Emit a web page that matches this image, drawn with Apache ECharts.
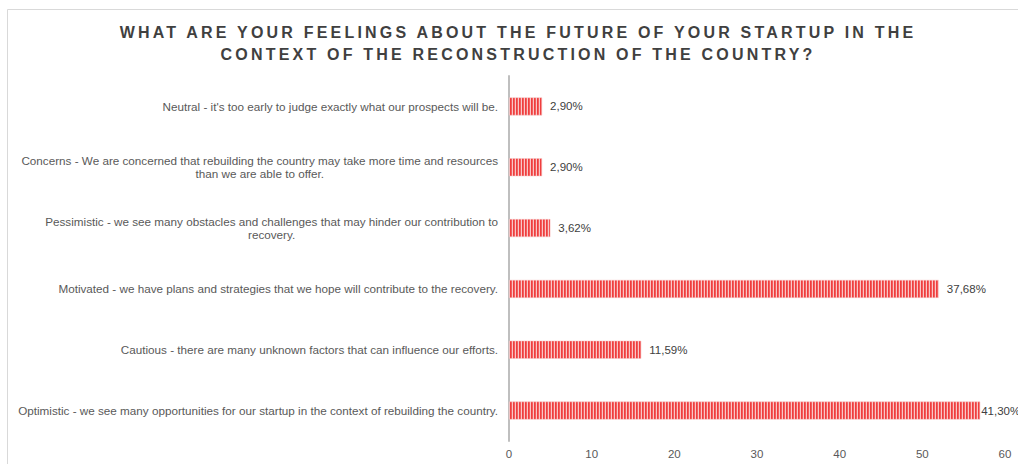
<!DOCTYPE html>
<html>
<head>
<meta charset="utf-8">
<script src="https://cdn.jsdelivr.net/npm/echarts@6/dist/echarts.min.js"></script>
<style>
  html, body { margin: 0; padding: 0; background: #ffffff; }
  #chart { width: 1018px; height: 464px; }
  /* spaced-out capitals for the heading (the only bold text in the chart) */
  #chart svg text[style*="bold"] { letter-spacing: 3.2px; }
</style>
</head>
<body>
<div id="chart"></div>
<script>
// Survey answers, listed top to bottom
const categories = [
  "Neutral - it's too early to judge exactly what our prospects will be.",
  "Concerns - We are concerned that rebuilding the country may take more time and resources\nthan we are able to offer.",
  "Pessimistic - we see many obstacles and challenges that may hinder our contribution to\nrecovery.",
  "Motivated - we have plans and strategies that we hope will contribute to the recovery.",
  "Cautious - there are many unknown factors that can influence our efforts.",
  "Optimistic - we see many opportunities for our startup in the context of rebuilding the country."
];
// Number of startups choosing each answer
const responses = [4, 4, 5, 52, 16, 57];
const totalRespondents = 138;
const xTicks = [0, 10, 20, 30, 40, 50, 60];

const titleLines = [
  'WHAT ARE YOUR FEELINGS ABOUT THE FUTURE OF YOUR STARTUP IN THE',
  'CONTEXT OF THE RECONSTRUCTION OF THE COUNTRY?'
];

// Share of respondents, written with a decimal comma
function share(v) {
  return (v / totalRespondents * 100).toFixed(2).replace('.', ',') + '%';
}

// Fine vertical red stripes used as bar fill
const stripe = document.createElement('canvas');
stripe.width = 3;
stripe.height = 3;
(function () {
  const ctx = stripe.getContext('2d');
  const cols = ['#ef3e3e', '#f25e5e', '#f9c6c6'];
  cols.forEach((c, i) => { ctx.fillStyle = c; ctx.fillRect(i, 0, 1, 3); });
})();

const maxVal = Math.max.apply(null, responses);

const chart = echarts.init(document.getElementById('chart'), null, { renderer: 'svg' });
chart.setOption({
  backgroundColor: '#ffffff',
  animation: false,
  title: {
    text: titleLines.join('\n'),
    left: 513,
    top: 16,
    textAlign: 'center',
    textStyle: {
      fontFamily: 'Liberation Sans',
      fontWeight: 'bold',
      fontSize: 16,
      lineHeight: 22,
      color: '#404040'
    }
  },
  graphic: [{
    type: 'rect',
    shape: { x: 7.5, y: 9.5, width: 1200, height: 600 },
    style: { fill: 'none', stroke: '#d9d9d9', lineWidth: 1 },
    silent: true,
    z: -10
  }],
  grid: { left: 509, right: 13, top: 76, bottom: 23, containLabel: false },
  xAxis: {
    type: 'value',
    min: xTicks[0],
    max: xTicks[xTicks.length - 1],
    interval: xTicks[1] - xTicks[0],
    axisLine: { show: false },
    axisTick: { show: false },
    splitLine: { show: false },
    axisLabel: {
      margin: 7,
      color: '#595959',
      fontSize: 11.5,
      fontFamily: 'Liberation Sans'
    }
  },
  yAxis: {
    type: 'category',
    inverse: true,
    data: categories,
    axisLine: { show: true, lineStyle: { color: '#bfbfbf', width: 2 } },
    axisTick: { show: false },
    axisLabel: {
      margin: 11,
      formatter: function (v) {
        return v.split('\n').map(l => '{c|' + l + '}').join('\n');
      },
      rich: {
        c: {
          align: 'center',
          color: '#595959',
          fontSize: 11.7,
          lineHeight: 13,
          fontFamily: 'Liberation Sans'
        }
      }
    }
  },
  series: [{
    type: 'bar',
    barWidth: 18,
    data: responses.map(v => ({
      value: v,
      label: { distance: v === maxVal ? 1 : 8 }
    })),
    itemStyle: {
      color: { image: stripe, repeat: 'repeat', imageWidth: 3, imageHeight: 3 },
      borderColor: '#f4c2c2',
      borderWidth: 0.5
    },
    label: {
      show: true,
      position: 'right',
      color: '#404040',
      fontSize: 11.5,
      fontFamily: 'Liberation Sans',
      formatter: p => share(p.value)
    }
  }]
});
</script>
</body>
</html>
